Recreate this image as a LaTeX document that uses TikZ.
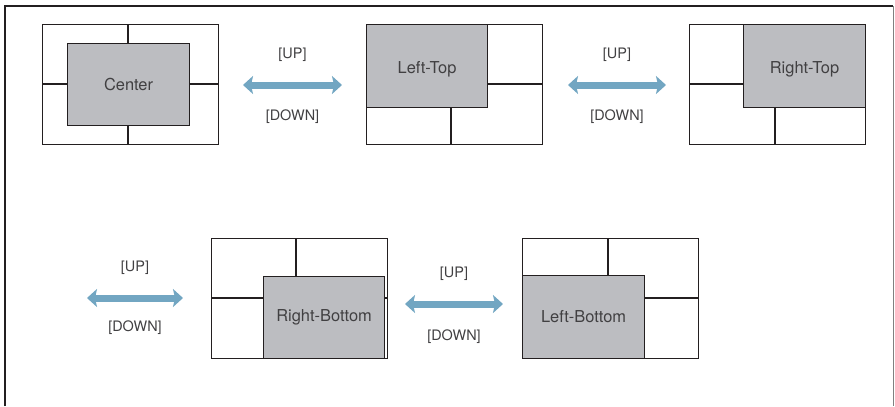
\documentclass[tikz,border=0pt]{standalone}
\usepackage{fontspec}
\setmainfont{TeX Gyre Heros}
\usetikzlibrary{arrows.meta}
\definecolor{framec}{HTML}{231F20}
\definecolor{windowc}{HTML}{BCBDC1}
\definecolor{arrowc}{HTML}{72A6C2}
\definecolor{textc}{HTML}{414042}
\newcommand{\lowtext}[1]{\raisebox{-3.5bp}[\height][\depth]{#1}}
\begin{document}
\begin{tikzpicture}[
  x=1bp, y=-1bp,
  screen/.style={rectangle, draw=framec, line width=1.1bp, minimum width=176bp, minimum height=120bp, inner sep=0pt, anchor=north west},
  window/.style={rectangle, draw=framec, fill=windowc, line width=1.1bp, inner sep=0pt, anchor=north west, text=textc, font=\fontsize{16.5}{18}\selectfont},
  divider/.style={draw=framec, line width=1.6bp},
  swap/.style={draw=arrowc, line width=7bp, {Stealth[length=10bp,width=18bp,inset=2bp]}-{Stealth[length=10bp,width=18bp,inset=2bp]}},
  key/.style={text=textc, font=\fontsize{14.5}{16}\selectfont}
]
\useasboundingbox (0,0) rectangle (895,406);
\draw[line width=2bp, framec] (5,406) -- (5,6) -- (893,6);
\draw[line width=1bp, gray] (893.5,6) -- (893.5,406);

% top row
\node[screen] (center) at (42,24) {};
\draw[divider] (128,24) -- (128,144) (42,84) -- (218,84);
\node[window, minimum width=122bp, minimum height=82bp] (centerwin) at (67,43) {Center};

\node[screen] (lefttop) at (366,24) {};
\draw[divider] (451,24) -- (451,144) (366,84) -- (542,84);
\node[window, minimum width=121bp, minimum height=83bp] (lefttopwin) at (366,24) {\lowtext{Left-Top}};

\node[screen] (righttop) at (689,24) {};
\draw[divider] (775,24) -- (775,144) (689,84) -- (865,84);
\node[window, minimum width=122bp, minimum height=83bp] (righttopwin) at (743,24) {\lowtext{Right-Top}};

% bottom row
\node[screen] (rightbottom) at (211,238) {};
\draw[divider] (296,238) -- (296,358) (211,298) -- (387,298);
\node[window, minimum width=121bp, minimum height=82bp] (rightbottomwin) at (263,276) {Right-Bottom};

\node[screen] (leftbottom) at (522,238) {};
\draw[divider] (608,238) -- (608,358) (522,298) -- (699,298);
\node[window, minimum width=122bp, minimum height=83bp] (leftbottomwin) at (522,275) {Left-Bottom};

% arrows
\coordinate (a1) at (243,85);  \coordinate (b1) at (342,85);
\coordinate (a2) at (568,85);  \coordinate (b2) at (666,85);
\coordinate (a3) at (87,298);  \coordinate (b3) at (183,298);
\coordinate (a4) at (405,304); \coordinate (b4) at (503,304);

\draw[swap] (a1) -- (b1) node[key,midway,yshift=30bp] {[UP]} node[key,midway,yshift=-32bp] {[DOWN]};
\draw[swap] (a2) -- (b2) node[key,midway,yshift=30bp] {[UP]} node[key,midway,yshift=-32bp] {[DOWN]};
\draw[swap] (a3) -- (b3) node[key,midway,yshift=30bp] {[UP]} node[key,midway,yshift=-30bp] {[DOWN]};
\draw[swap] (a4) -- (b4) node[key,midway,yshift=30bp] {[UP]} node[key,midway,yshift=-33bp] {[DOWN]};
\end{tikzpicture}
\end{document}
